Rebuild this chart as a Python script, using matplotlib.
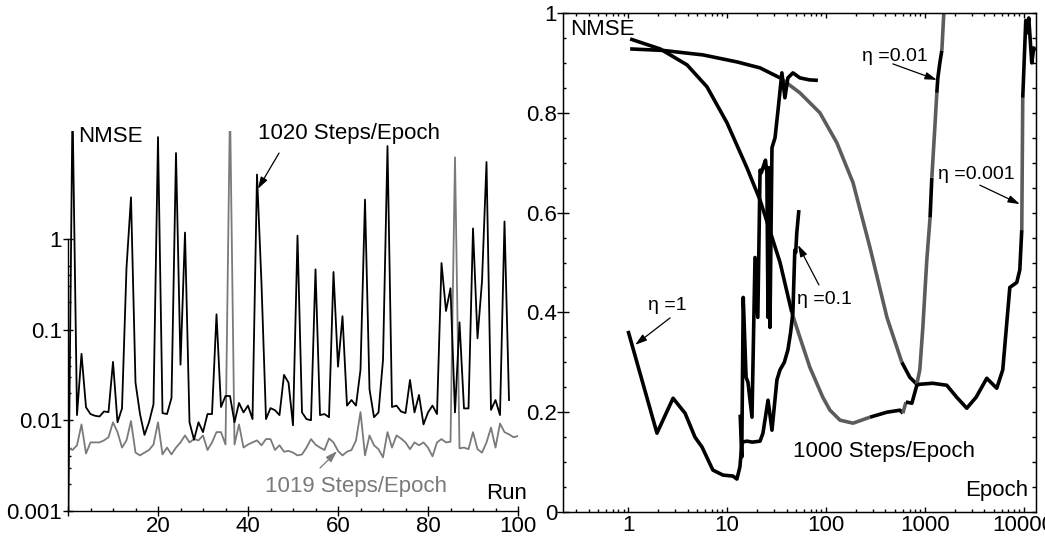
import numpy as np
import matplotlib
matplotlib.use("Agg")
import matplotlib.pyplot as plt
from matplotlib.ticker import FixedLocator, FixedFormatter, MultipleLocator, LogLocator, NullFormatter

plt.rcParams['font.family'] = ['Liberation Sans', 'DejaVu Sans']

# ---------------- left panel: NMSE per run ----------------
nmse_1020 = [0.0004, 30, 0.0114, 0.054, 0.0139, 0.0117, 0.0112, 0.011, 0.0125, 0.0123,
             0.044, 0.0095, 0.0135, 0.48, 2.86, 0.026, 0.0117, 0.0069, 0.0095, 0.015,
             13.2, 0.012, 0.0117, 0.0176, 8.8, 0.041, 1.17, 0.0095, 0.0061, 0.0095,
             0.0074, 0.0117, 0.0117, 0.147, 0.014, 0.0185, 0.0185, 0.0095, 0.0155, 0.0122,
             0.0145, 0.0103, 5.1, 0.32, 0.0103, 0.0136, 0.0129, 0.0114, 0.0316, 0.026,
             0.0088, 1.08, 0.0122, 0.0103, 0.010, 0.46, 0.0114, 0.0117, 0.0108, 0.43,
             0.039, 0.14, 0.0145, 0.0167, 0.0145, 0.036, 2.7, 0.022, 0.0108, 0.0122,
             0.046, 10.5, 0.014, 0.0145, 0.0125, 0.012, 0.0278, 0.0122, 0.019, 0.009,
             0.0122, 0.0145, 0.0117, 0.54, 0.16, 0.285, 0.0122, 0.12, 0.0135, 0.0135,
             1.3, 0.08, 0.34, 7.0, 0.013, 0.0167, 0.0114, 1.55, 0.0167]

nmse_1019 = [0.0050, 0.0047, 0.0053, 0.0090, 0.0043, 0.0057, 0.0057, 0.0057, 0.0060, 0.0065,
             0.0095, 0.0074, 0.0050, 0.0060, 0.0098, 0.0044, 0.0041, 0.0044, 0.0047, 0.0054,
             0.0095, 0.0042, 0.0050, 0.0042, 0.0050, 0.0057, 0.0068, 0.0057, 0.0062, 0.0060,
             0.0068, 0.0047, 0.0057, 0.0074, 0.0074, 0.0054, 30, 0.0054, 0.0090, 0.0050,
             0.0054, 0.0057, 0.0060, 0.0053, 0.0062, 0.0062, 0.0047, 0.0053, 0.0045, 0.0046,
             0.0044, 0.0041, 0.0042, 0.0050, 0.0062, 0.0054, 0.0050, 0.0047, 0.0063, 0.0057,
             0.0046, 0.0041, 0.0045, 0.0047, 0.0060, 0.0123, 0.0041, 0.0068, 0.0053, 0.0048,
             0.0039, 0.0074, 0.0050, 0.0068, 0.0063, 0.0057, 0.0048, 0.0057, 0.0053, 0.0057,
             0.0050, 0.0040, 0.0057, 0.0062, 0.0057, 0.0058, 7.9, 0.0049, 0.0050, 0.0048,
             0.0074, 0.0048, 0.0044, 0.0057, 0.0083, 0.0050, 0.0092, 0.0074, 0.0070, 0.0065,
             0.0067]

left_yticks = [0.001, 0.01, 0.1, 1]
left_ylabels = ['0.001', '0.01', '0.1', '1']
left_xticks = [0, 20, 40, 60, 80, 100]
left_xlabels = ['', '20', '40', '60', '80', '100']

# ---------------- right panel: NMSE vs epoch ----------------
eta_a_epoch = [1.05, 2.11, 3.95, 6.28, 10, 15.9, 21.6, 29.1, 34.4, 45.2,
               54.6, 68.8, 93, 110, 139, 188, 279, 414, 560, 600,
               644, 658, 740, 830, 890, 1200, 1667, 2100, 2655, 3300,
               4230, 5335, 6135, 7230, 8500, 9120, 9550, 9770, 10480, 10730,
               11240, 12050, 12620, 13200]
eta_a_nmse = [0.948, 0.928, 0.896, 0.852, 0.78, 0.69, 0.625, 0.545, 0.5, 0.4,
              0.35, 0.29, 0.23, 0.204, 0.184, 0.178, 0.19, 0.2, 0.204, 0.198,
              0.22, 0.22, 0.218, 0.254, 0.256, 0.258, 0.254, 0.23, 0.208, 0.23,
              0.268, 0.248, 0.285, 0.45, 0.46, 0.485, 0.565, 0.83, 0.985, 0.96,
              0.99, 0.9, 0.93, 0.925]
eta_a_gray = [(45.2, 279), (600, 644), (9550, 9770)]

eta_b_epoch = [1.05, 2.26, 5.73, 12.6, 21.6, 34.4, 54.6, 86.9, 129, 188,
               279, 414, 586, 705, 830, 890, 955, 1047, 1130, 1177,
               1262, 1322, 1354, 1418, 1486, 1556, 1620]
eta_b_nmse = [0.928, 0.925, 0.916, 0.902, 0.89, 0.87, 0.84, 0.80, 0.74, 0.66,
              0.53, 0.39, 0.30, 0.27, 0.256, 0.285, 0.37, 0.505, 0.59, 0.67,
              0.77, 0.84, 0.87, 0.90, 0.925, 1.0, 1.05]
eta_b_gray = [(34.4, 586), (830, 1130), (1177, 1322), (1486, 1620)]

eta_c_epoch = [1, 1.96, 2.85, 3.77, 4.75, 5.6, 7.2, 9.1, 11.5, 12.6,
               13.5, 14.2, 15.9, 18, 21.6, 23.1, 26, 28.5, 32, 34.4,
               38, 41.3, 44, 46.4, 48.5, 49.5, 50.8, 53.3]
eta_c_nmse = [0.363, 0.158, 0.228, 0.198, 0.15, 0.13, 0.084, 0.074, 0.072, 0.066,
              0.09, 0.14, 0.142, 0.14, 0.142, 0.158, 0.224, 0.164, 0.265, 0.285,
              0.30, 0.325, 0.36, 0.40, 0.525, 0.52, 0.56, 0.605]

eta_d_epoch = [13.6, 14.1, 14.6, 15.6, 16.3, 17.9, 19.2, 20.5, 21.6, 22.3,
               23.1, 24.5, 25.3, 26.0, 26.6, 27.2, 28.5, 30.6, 32.8, 35.9,
               38.5, 41.3, 46.4, 54.6, 68, 83]
eta_d_nmse = [0.195, 0.11, 0.43, 0.27, 0.26, 0.19, 0.51, 0.39, 0.685, 0.68,
              0.69, 0.705, 0.68, 0.39, 0.69, 0.37, 0.73, 0.75, 0.805, 0.88,
              0.83, 0.87, 0.88, 0.87, 0.866, 0.865]

right_xticks = [1, 10, 100, 1000, 10000]
right_xlabels = ['1', '10', '100', '1000', '10000']
right_yticks = [0, 0.2, 0.4, 0.6, 0.8, 1]
right_ylabels = ['0', '0.2', '0.4', '0.6', '0.8', '1']

GRAY_L = '#7a7a7a'
GRAY_R = '#5c5c5c'

W, H = 1045, 537
fig = plt.figure(figsize=(W / 100, H / 100), dpi=100)


def arrow(ax, tip, tail, color='black'):
    ax.annotate('', xy=tip, xytext=tail,
                arrowprops=dict(arrowstyle='-|>,head_length=0.7,head_width=0.22',
                                color=color, lw=0.9, shrinkA=0, shrinkB=0))


def draw_path(ax, xs, ys, gray_spans, lw=2.6):
    # split polyline into black / gray pieces
    xs = np.asarray(xs, float)
    ys = np.asarray(ys, float)
    mids = np.sqrt(xs[:-1] * xs[1:])
    is_gray = [any(a <= m <= b for a, b in gray_spans) for m in mids]
    start = 0
    for i in range(1, len(mids) + 1):
        if i == len(mids) or is_gray[i] != is_gray[start]:
            ax.plot(xs[start:i + 1], ys[start:i + 1],
                    color=GRAY_R if is_gray[start] else 'black', lw=lw,
                    solid_capstyle='butt', solid_joinstyle='round')
            start = i


#######################################
## left panel                        ##
#######################################
ax1 = fig.add_axes([68 / W, (H - 511) / H, 450 / W, 380 / H])
ax1.plot(range(len(nmse_1019)), nmse_1019, color=GRAY_L, lw=1.3)
ax1.plot(range(len(nmse_1020)), nmse_1020, color='black', lw=1.3)
ax1.set_yscale('log')
ax1.set_xlim(0, 100)
ax1.set_ylim(1e-3, 15.4)
for s in ['top', 'right']:
    ax1.spines[s].set_visible(False)
ax1.spines['left'].set_bounds(1e-3, 1)
for s in ['left', 'bottom']:
    ax1.spines[s].set_linewidth(1.0)

ax1.yaxis.set_major_locator(FixedLocator(left_yticks))
ax1.yaxis.set_major_formatter(FixedFormatter(left_ylabels))
ax1.yaxis.set_minor_locator(FixedLocator([m * 10.0 ** e for e in (-3, -2, -1) for m in (2, 3, 4, 5)]))
ax1.yaxis.set_minor_formatter(NullFormatter())
ax1.xaxis.set_major_locator(FixedLocator(left_xticks))
ax1.xaxis.set_major_formatter(FixedFormatter(left_xlabels))
ax1.xaxis.set_minor_locator(MultipleLocator(5))
ax1.tick_params(which='major', direction='inout', length=7, width=1, labelsize=16)
ax1.tick_params(which='minor', direction='in', length=2.5, width=1)
ax1.tick_params(axis='y', which='major', pad=0.8)
ax1.tick_params(axis='x', which='major', pad=0)

ax1.text(2.2, 13.5, 'NMSE', fontsize=16, va='center', ha='left')
ax1.text(42.2, 14.3, '1020 Steps/Epoch', fontsize=16, va='center', ha='left')
arrow(ax1, (42.2, 3.55), (46.9, 8.8))
ax1.text(43.8, 0.00184, '1019 Steps/Epoch', fontsize=16, va='center', ha='left', color=GRAY_L)
arrow(ax1, (59.8, 0.00457), (56.0, 0.00297), color=GRAY_L)
ax1.text(92.9, 0.00157, 'Run', fontsize=16, va='center', ha='left')

#######################################
## right panel                       ##
#######################################
ax2 = fig.add_axes([563 / W, (H - 512) / H, 473 / W, 499 / H])
ax2.set_xscale('log')
draw_path(ax2, eta_b_epoch, eta_b_nmse, eta_b_gray)
draw_path(ax2, eta_a_epoch, eta_a_nmse, eta_a_gray)
draw_path(ax2, eta_c_epoch, eta_c_nmse, [])
draw_path(ax2, eta_d_epoch, eta_d_nmse, [])
ax2.set_xlim(0.22, 13300)
ax2.set_ylim(0, 1)
for s in ax2.spines.values():
    s.set_linewidth(1.0)

ax2r = ax2.twinx()
ax2r.set_ylim(0, 1)
ax2r.yaxis.set_major_locator(MultipleLocator(0.2))
ax2r.yaxis.set_minor_locator(MultipleLocator(0.05))
ax2r.tick_params(axis='y', which='both', direction='in', length=3, width=1, labelright=False)

ax2.xaxis.set_major_locator(FixedLocator(right_xticks))
ax2.xaxis.set_major_formatter(FixedFormatter(right_xlabels))
ax2.xaxis.set_minor_locator(LogLocator(base=10, subs=np.arange(2, 10)))
ax2.xaxis.set_minor_formatter(NullFormatter())
ax2.yaxis.set_major_locator(FixedLocator(right_yticks))
ax2.yaxis.set_major_formatter(FixedFormatter(right_ylabels))
ax2.yaxis.set_minor_locator(MultipleLocator(0.05))
ax2.tick_params(axis='x', which='both', direction='in', top=True, bottom=True, width=1, labelsize=16)
ax2.tick_params(axis='x', which='major', length=3.5, pad=2)
ax2.tick_params(axis='x', which='minor', length=2.5)
ax2.tick_params(axis='y', which='major', direction='inout', length=8, width=1, labelsize=16,
                left=True, right=False, pad=0.3)
ax2.tick_params(axis='y', which='minor', direction='in', length=2.5, width=1, left=True, right=False)

ax2.text(0.26, 0.966, 'NMSE', fontsize=16, va='center', ha='left')
ax2.text(1.59, 0.413, 'η =1', fontsize=14, va='center', ha='left')
arrow(ax2, (1.18, 0.335), (2.66, 0.389))
ax2.text(51, 0.425, 'η =0.1', fontsize=14, va='center', ha='left')
arrow(ax2, (52.3, 0.535), (85, 0.455))
ax2.text(232, 0.912, 'η =0.01', fontsize=14, va='center', ha='left')
arrow(ax2, (1322, 0.866), (475, 0.898))
ax2.text(1363, 0.677, 'η =0.001', fontsize=14, va='center', ha='left')
arrow(ax2, (9120, 0.617), (3600, 0.655))
ax2.text(46.4, 0.122, '1000 Steps/Epoch', fontsize=16, va='center', ha='left')
ax2.text(11100, 0.044, 'Epoch', fontsize=16, va='center', ha='right')

fig.savefig('out.png', dpi=100)
